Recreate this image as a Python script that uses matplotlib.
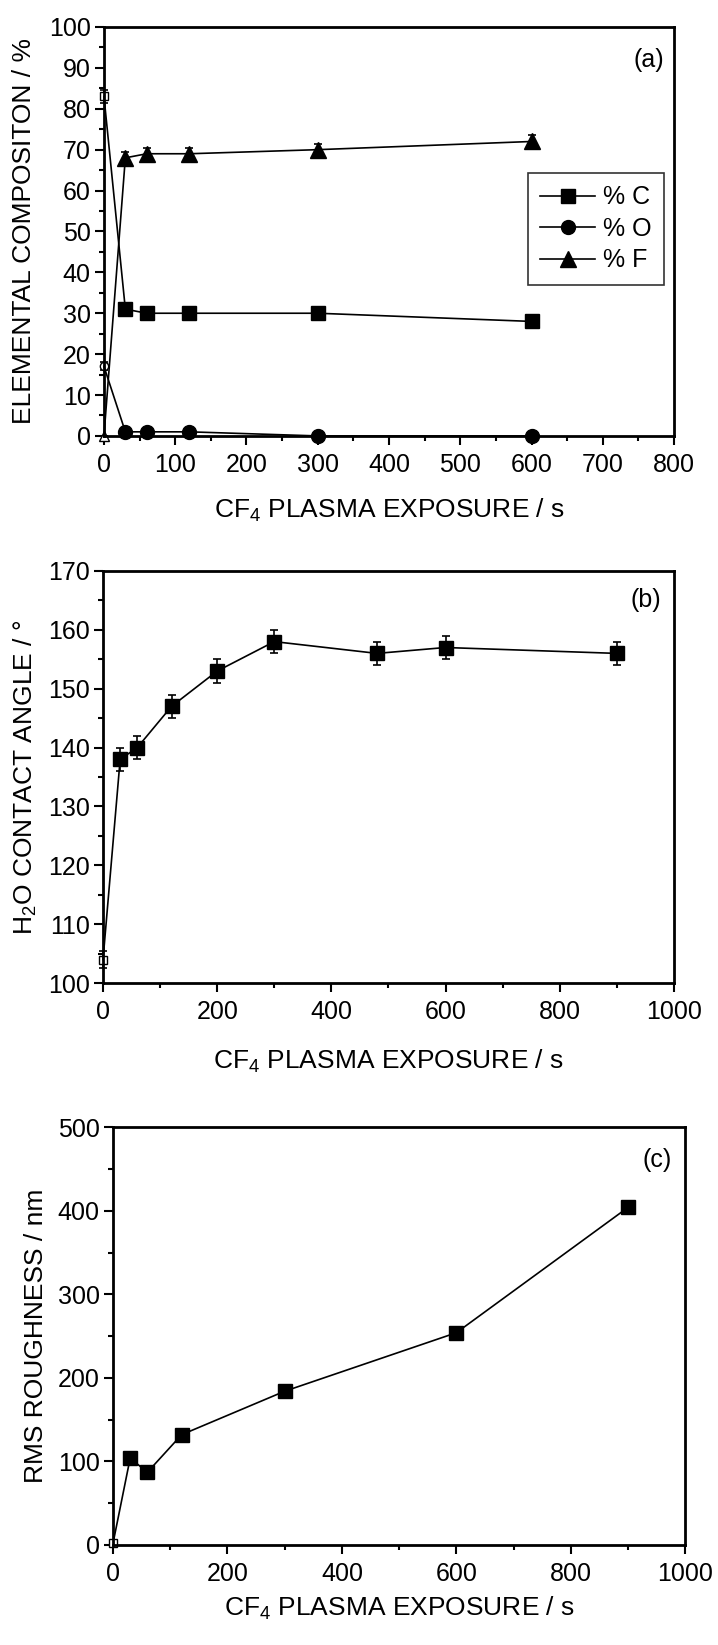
import matplotlib
matplotlib.use('Agg')
import matplotlib.pyplot as plt
from matplotlib.ticker import MultipleLocator
from matplotlib.lines import Line2D

plt.rcParams['font.family'] = ['Liberation Sans', 'DejaVu Sans']
plt.rcParams['mathtext.fontset'] = 'custom'
plt.rcParams['mathtext.rm'] = 'Liberation Sans'
plt.rcParams['mathtext.default'] = 'regular'

# (a) elemental composition
t_xps = [0, 30, 60, 120, 300, 600]
pct_c = [83, 31, 30, 30, 30, 28]
pct_o = [17, 1, 1, 1, 0, 0]
pct_f = [0, 68, 69, 69, 70, 72]
err_c = [1.5, 1.5, 1.5, 1.5, 1.5, 1.5]
err_o = [1, 1, 1, 1, 0, 0]
err_f = [0, 1.5, 1.5, 1.5, 1.5, 1.5]

# (b) water contact angle
t_ca = [0, 30, 60, 120, 200, 300, 480, 600, 900]
angle = [104, 138, 140, 147, 153, 158, 156, 157, 156]
err_angle = [1.5, 2, 2, 2, 2, 2, 2, 2, 2]

# (c) rms roughness
t_rms = [0, 30, 60, 120, 300, 600, 900]
rms = [2, 104, 87, 132, 184, 254, 404]

TICK_FS = 18
LABEL_FS = 19
xlabel = 'CF$_4$ PLASMA EXPOSURE / s'

fig = plt.figure(figsize=(7.18, 16.45), dpi=100)
ax_a = fig.add_axes([0.1448, 0.735, 0.794, 0.2486])
ax_b = fig.add_axes([0.1435, 0.4024, 0.795, 0.2505])
ax_c = fig.add_axes([0.1574, 0.0608, 0.797, 0.254])


def style(ax, xmax, xmaj, ymin, ymax, ymaj, ylab, xl_y, yl_x):
    ax.set_xlim(0, xmax)
    ax.set_ylim(ymin, ymax)
    ax.xaxis.set_major_locator(MultipleLocator(xmaj))
    ax.xaxis.set_minor_locator(MultipleLocator(xmaj / 2))
    ax.yaxis.set_major_locator(MultipleLocator(ymaj))
    ax.yaxis.set_minor_locator(MultipleLocator(ymaj / 2))
    ax.tick_params(which='both', direction='out', top=False, right=False,
                   labelsize=TICK_FS, width=1.5)
    ax.tick_params(which='major', length=6.5)
    ax.tick_params(which='minor', length=3.5)
    ax.tick_params(axis='x', which='major', pad=6)
    ax.tick_params(axis='y', which='major', pad=3)
    for s in ax.spines.values():
        s.set_linewidth(2)
    ax.set_xlabel(xlabel, fontsize=LABEL_FS)
    ax.set_ylabel(ylab, fontsize=LABEL_FS)
    ax.xaxis.set_label_coords(0.5, xl_y)
    ax.yaxis.set_label_coords(yl_x, 0.5)
    ax.xaxis.label.set_va('baseline')
    ax.yaxis.label.set_va('baseline')


def series(ax, x, y, err, marker, ms):
    if err is None:
        ax.plot(x, y, color='black', lw=1.2, marker=marker, ms=ms,
                markevery=slice(1, None), clip_on=False)
    else:
        ax.errorbar(x, y, yerr=err, color='black', lw=1.2, marker=marker,
                    ms=ms, capsize=3, elinewidth=1.2, capthick=1.2,
                    markevery=slice(1, None), clip_on=False)
    # untreated sample drawn as an open marker
    ax.plot(x[:1], y[:1], ls='none', marker=marker, ms=ms * 0.6,
            mfc='white', mec='black', mew=1, clip_on=False)


# panel (a)
series(ax_a, t_xps, pct_c, err_c, 's', 10)
series(ax_a, t_xps, pct_o, err_o, 'o', 10)
series(ax_a, t_xps, pct_f, err_f, '^', 11)
style(ax_a, 800, 100, 0, 100, 10, 'ELEMENTAL COMPOSITON / %', -0.2005, -0.128)
ax_a.text(0.955, 0.92, '(a)', transform=ax_a.transAxes, fontsize=TICK_FS,
          ha='center', va='center')
handles = [Line2D([], [], color='black', lw=1.2, marker=m, ms=s)
           for m, s in [('s', 10), ('o', 10), ('^', 11)]]
leg = ax_a.legend(handles, ['% C', '% O', '% F'], loc='upper right',
                  bbox_to_anchor=(0.982, 0.643), borderaxespad=0,
                  fontsize=18, frameon=True, fancybox=False,
                  edgecolor='black', handlelength=2.2, handletextpad=0.3,
                  borderpad=0.5, labelspacing=0.3)
leg.get_frame().set_linewidth(1.2)

# panel (b)
series(ax_b, t_ca, angle, err_angle, 's', 10)
style(ax_b, 1000, 200, 100, 170, 10, 'H$_2$O CONTACT ANGLE / °', -0.2087, -0.1235)
ax_b.text(0.951, 0.93, '(b)', transform=ax_b.transAxes, fontsize=TICK_FS,
          ha='center', va='center')

# panel (c)
series(ax_c, t_rms, rms, None, 's', 10)
style(ax_c, 1000, 200, 0, 500, 100, 'RMS ROUGHNESS / nm', -0.170, -0.123)
ax_c.text(0.951, 0.921, '(c)', transform=ax_c.transAxes, fontsize=TICK_FS,
          ha='center', va='center')

fig.savefig('out.png', dpi=100)
